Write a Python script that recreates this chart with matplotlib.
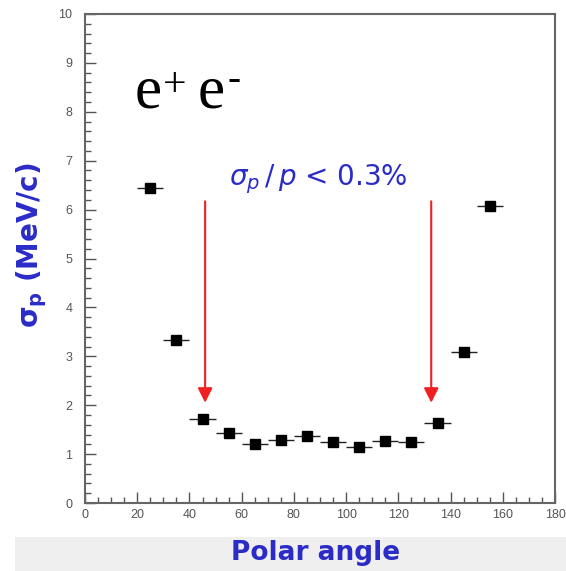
import numpy as np
import matplotlib
matplotlib.use("Agg")
import matplotlib.pyplot as plt
from matplotlib.patches import Rectangle
from matplotlib.ticker import MultipleLocator

# polar angle bin centres (deg) and momentum resolution (MeV/c)
angle = [25, 35, 45, 55, 65, 75, 85, 95, 105, 115, 125, 135, 145, 155]
sigma_p = [6.44, 3.33, 1.71, 1.43, 1.20, 1.29, 1.38, 1.24, 1.15, 1.26, 1.24, 1.64, 3.08, 6.08]
bin_half = 5

# angular limits of the sigma_p/p < 0.3% region
cut_angles = [46, 132.6]
arrow_top = 6.17
arrow_tip = 2.05

BLUE = "#2b2bc8"
GRAY = "#555555"

fig = plt.figure(figsize=(5.66, 5.71), dpi=100)
fig.patch.set_facecolor("white")

# light band behind the x label
fig.patches.append(Rectangle((15 / 566, 0), 1, 34 / 571, transform=fig.transFigure,
                             facecolor="#efefef", edgecolor="none", zorder=0))

ax = fig.add_axes([85 / 566, 1 - 503 / 571, 470 / 566, 489 / 571])

ax.errorbar(angle, sigma_p, xerr=bin_half, fmt="s", color="black", ms=6.5,
            ecolor="#222222", elinewidth=1.0, capsize=0, zorder=3)

for a in cut_angles:
    ax.annotate("", xy=(a, arrow_tip), xytext=(a, arrow_top),
                arrowprops=dict(arrowstyle="-|>", color="#f02020", lw=1.5,
                                mutation_scale=22, shrinkA=0, shrinkB=0))

ax.text(89.5, 6.62, r"$\sigma_p\,/\,p$ < 0.3%", color=BLUE, fontsize=20,
        ha="center", va="center", family="DejaVu Sans", math_fontfamily="dejavusans")

# e+ e- label, superscripts drawn as smaller serif text
serif = "Liberation Serif"
ax.text(19.15, 8.08, "e", fontsize=44, family=serif, ha="left", va="baseline")
ax.text(29.9, 8.33, "+", fontsize=30, family=serif, ha="left", va="baseline")
ax.text(43.3, 8.08, "e", fontsize=44, family=serif, ha="left", va="baseline")
ax.text(54.6, 8.63, "-", fontsize=28, family=serif, ha="left", va="center")

ax.set_xlim(0, 180)
ax.set_ylim(0, 10)
ax.xaxis.set_major_locator(MultipleLocator(20))
ax.xaxis.set_minor_locator(MultipleLocator(5))
ax.yaxis.set_major_locator(MultipleLocator(1))
ax.yaxis.set_minor_locator(MultipleLocator(0.2))

ax.tick_params(which="both", direction="in", colors=GRAY, labelsize=9, width=1.0)
ax.tick_params(which="major", length=8)
ax.tick_params(which="minor", length=4)
ax.tick_params(axis="y", pad=9)
ax.tick_params(axis="x", pad=4)
for lab in ax.get_xticklabels() + ax.get_yticklabels():
    lab.set_family("Liberation Sans")
    lab.set_color(GRAY)

for sp in ax.spines.values():
    sp.set_color("#666666")
    sp.set_linewidth(1.5)

fig.text(32 / 566, 1 - 245 / 571, r"σ$_\mathbf{p}$ (MeV/c)", rotation=90,
         color=BLUE, fontsize=20, fontweight="bold", ha="center", va="center",
         math_fontfamily="dejavusans")
fig.text(316 / 566, 1 - 553 / 571, "Polar angle", color=BLUE, fontsize=19,
         fontweight="bold", ha="center", va="center")

fig.savefig("out.png", dpi=100)
